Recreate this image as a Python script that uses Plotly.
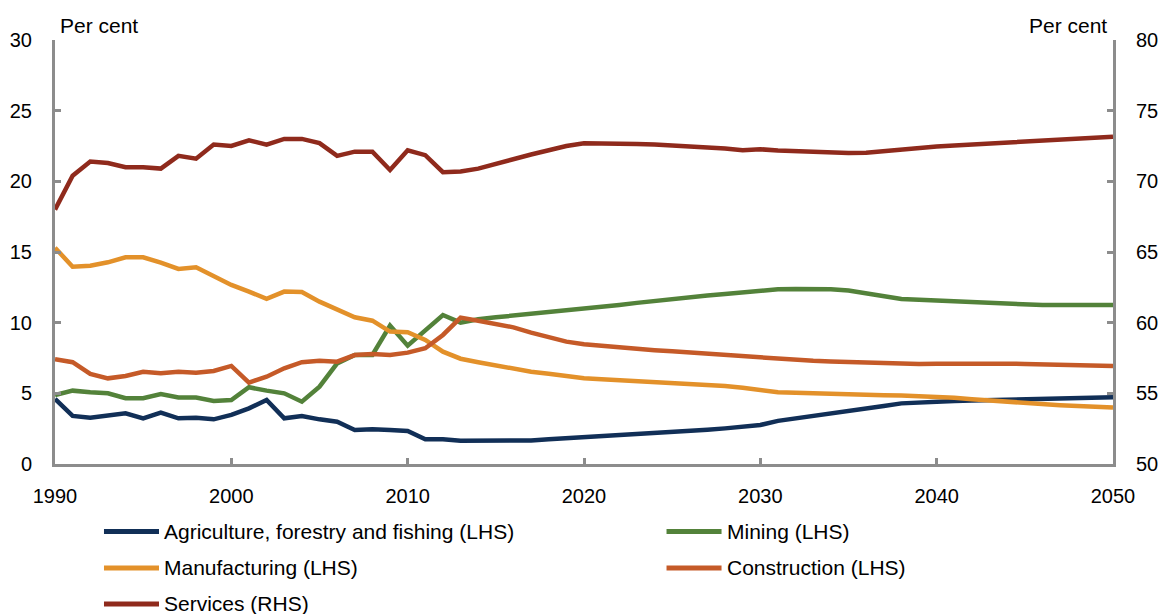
import plotly.graph_objects as go

years = list(range(1990, 2051))

agriculture = [4.6, 3.4, 3.28, 3.47, 3.59, 3.23, 3.63, 3.23, 3.28, 3.16,
               3.47, 3.94, 4.53, 3.23, 3.4, 3.16, 2.99, 2.41, 2.45, 2.41,
               2.34, 1.75, 1.75, 1.65, 1.67, 1.67, 1.63, 1.67, 1.75, 1.82,
               1.86, 1.92, 2.0, 2.07, 2.15, 2.22, 2.32, 2.42, 2.52, 2.63,
               2.76, 3.05, 3.22, 3.38, 3.54, 3.7, 3.9, 4.1, 4.29, 4.36,
               4.43, 4.46, 4.49, 4.52, 4.55, 4.58, 4.61, 4.64, 4.67, 4.7, 4.72]

mining = [4.88, 5.19, 5.07, 5.0, 4.65, 4.65, 4.95, 4.7, 4.7, 4.46,
          4.53, 5.43, 5.19, 5.0, 4.41, 5.47, 7.12, 7.71, 7.71, 9.79,
          8.37, 9.48, 10.54, 10.0, 10.24, 10.38, 10.5, 10.66, 10.73, 10.83,
          10.95, 11.1, 11.25, 11.4, 11.55, 11.68, 11.8, 11.92, 12.03, 12.15,
          12.27, 12.36, 12.38, 12.38, 12.36, 12.27, 12.08, 11.84, 11.68, 11.62,
          11.56, 11.5, 11.43, 11.37, 11.31, 11.27, 11.25, 11.25, 11.25, 11.25, 11.25]

manufacturing = [15.3, 13.96, 14.03, 14.27, 14.63, 14.63, 14.25, 13.8, 13.92, 13.3,
                 12.67, 12.2, 11.68, 12.2, 12.17, 11.49, 10.9, 10.38, 10.14, 9.37,
                 9.32, 8.78, 7.95, 7.45, 7.2, 6.96, 6.72, 6.53, 6.39, 6.23,
                 6.06, 6.0, 5.94, 5.88, 5.82, 5.76, 5.68, 5.6, 5.52, 5.4,
                 5.22, 5.07, 5.05, 5.0, 4.97, 4.93, 4.9, 4.87, 4.84, 4.8,
                 4.77, 4.68, 4.58, 4.49, 4.39, 4.29, 4.22, 4.16, 4.1, 4.04, 3.99]

construction = [7.41, 7.2, 6.37, 6.06, 6.23, 6.53, 6.42, 6.53, 6.46, 6.58,
                6.94, 5.76, 6.18, 6.77, 7.2, 7.31, 7.24, 7.71, 7.78, 7.71,
                7.88, 8.19, 9.13, 10.36, 10.14, 9.9, 9.67, 9.3, 8.96, 8.66,
                8.47, 8.35, 8.24, 8.14, 8.05, 7.97, 7.88, 7.8, 7.72, 7.65,
                7.5, 7.41, 7.35, 7.3, 7.25, 7.2, 7.15, 7.1, 7.05, 7.07,
                7.1, 7.12, 7.12, 7.11, 7.1, 7.08, 7.06, 7.03, 7.0, 6.97, 6.94]

services = [68.0, 70.4, 71.4, 71.3, 71.0, 71.0, 70.9, 71.8, 71.6, 72.6,
            72.5, 72.9, 72.6, 73.0, 73.0, 72.7, 71.8, 72.1, 72.1, 70.8,
            72.2, 71.85, 70.65, 70.7, 70.9, 71.25, 71.6, 71.9, 72.2, 72.5,
            72.7, 72.7, 72.68, 72.65, 72.6, 72.55, 72.47, 72.4, 72.33, 72.2,
            72.27, 72.18, 72.12, 72.06, 72.03, 72.0, 72.03, 72.15, 72.3, 72.38,
            72.46, 72.53, 72.6, 72.67, 72.74, 72.8, 72.88, 72.95, 73.02, 73.09, 73.16]

series = [
    ("Agriculture, forestry and fishing (LHS)", agriculture, "#112f57", "y"),
    ("Mining (LHS)", mining, "#53823a", "y"),
    ("Manufacturing (LHS)", manufacturing, "#e3912a", "y"),
    ("Construction (LHS)", construction, "#c55a28", "y"),
    ("Services (RHS)", services, "#8f2a1c", "y2"),
]

FONT = "Liberation Sans, Arial, sans-serif"
AXIS_COLOR = "#8c8c8c"

fig = go.Figure()
order = [1, 0, 2, 3, 4]
for i in order:
    name, vals, color, ax = series[i]
    fig.add_trace(go.Scatter(x=years, y=vals, mode="lines", name=name,
                             line=dict(color=color, width=4.5), yaxis=ax,
                             showlegend=False))

# Manual legend (two columns)
leg_rows = [-0.159, -0.245, -0.330]
leg_cols = [(0.0463, 0.0983, 0.1015), (0.578, 0.630, 0.6335)]
positions = [(0, 0), (1, 0), (0, 1), (1, 1), (0, 2)]
shapes = []
annotations = []
for (name, vals, color, ax), (c, r) in zip(series, positions):
    x0, x1, xt = leg_cols[c]
    yy = leg_rows[r]
    shapes.append(dict(type="line", xref="paper", yref="paper", x0=x0, x1=x1,
                       y0=yy, y1=yy, line=dict(color=color, width=5)))
    annotations.append(dict(xref="paper", yref="paper", x=xt, y=yy, text=name,
                            showarrow=False, xanchor="left", yanchor="middle",
                            font=dict(size=21, color="#000000", family=FONT)))

annotations.append(dict(xref="paper", yref="paper", x=0.003, y=1, yshift=15,
                        text="Per cent", showarrow=False, xanchor="left",
                        yanchor="middle", font=dict(size=21, color="#000", family=FONT)))
annotations.append(dict(xref="paper", yref="paper", x=1, y=1, yshift=15, xshift=-4,
                        text="Per cent", showarrow=False, xanchor="right",
                        yanchor="middle", font=dict(size=21, color="#000", family=FONT)))

axis_common = dict(showgrid=False, zeroline=False, showline=True, linecolor=AXIS_COLOR,
                   linewidth=3, ticks="inside", ticklen=6, tickwidth=3,
                   tickcolor=AXIS_COLOR, tickfont=dict(size=20), automargin=False)

fig.update_layout(
    width=1158, height=614,
    margin=dict(l=55, r=45, t=40, b=150, autoexpand=False),
    paper_bgcolor="white", plot_bgcolor="white",
    font=dict(family=FONT, size=20, color="#000"),
    shapes=shapes, annotations=annotations,
    xaxis=dict(range=[1990, 2050], tickvals=[1990, 2000, 2010, 2020, 2030, 2040, 2050],
               ticklabelstandoff=12, **axis_common),
    yaxis=dict(range=[0, 30], tickvals=[0, 5, 10, 15, 20, 25, 30],
               ticklabelstandoff=16, **axis_common),
    yaxis2=dict(range=[50, 80], tickvals=[50, 55, 60, 65, 70, 75, 80], overlaying="y",
                side="right", ticklabelstandoff=16, **axis_common),
)

fig.write_html("out.html", config={"displayModeBar": False})

# remove default page margin so the figure sits at the window origin
with open("out.html", "r", encoding="utf-8") as f:
    html = f.read()
html = html.replace("<head>", "<head><style>html,body{margin:0;padding:0;overflow:hidden;}</style>", 1)
with open("out.html", "w", encoding="utf-8") as f:
    f.write(html)
